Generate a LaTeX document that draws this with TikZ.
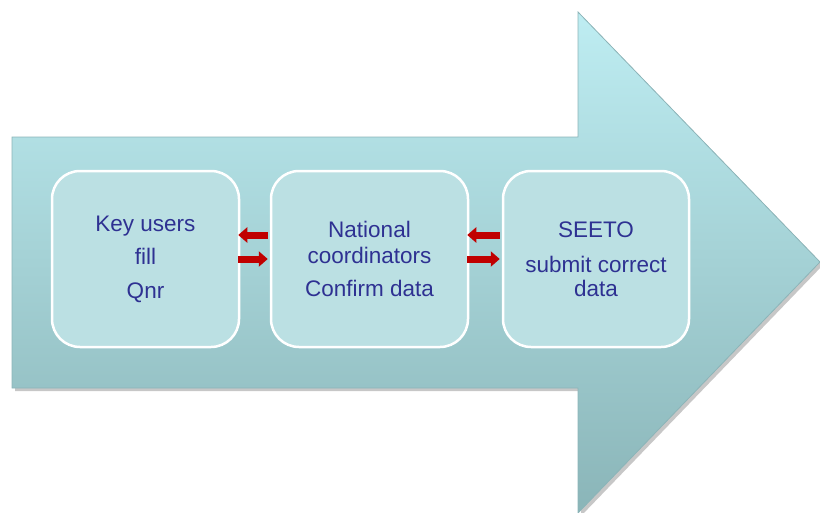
\documentclass[tikz,border=0pt]{standalone}
\usepackage{fontspec}
\setmainfont{Liberation Sans}
\usetikzlibrary{arrows.meta}
\definecolor{txt}{RGB}{46,49,146}
\definecolor{boxfill}{RGB}{187,224,227}
\definecolor{arrtop}{RGB}{190,237,242}
\definecolor{arrbot}{RGB}{138,181,184}
\definecolor{arredge}{RGB}{140,180,184}
\definecolor{arrred}{RGB}{192,0,0}
\begin{document}
\begin{tikzpicture}[x=1pt,y=-1pt,
  boxst/.style={draw=white, line width=2.5pt, rounded corners=28pt, fill=boxfill,
    minimum height=176pt, font=\fontsize{22.5}{26}\selectfont, text=txt,
    align=center, inner sep=0pt},
  redarr/.style={draw=arrred, line width=7pt, -{Triangle[width=15pt,length=9pt]}}]
\useasboundingbox (0,0) rectangle (820,512);
% shadow of the big arrow
\fill[black, opacity=0.22] (15,140) -- (581,140) -- (581,15) -- (823,265) -- (581,516) -- (581,391) -- (15,391) -- cycle;
% big arrow
\shade[top color=arrtop, bottom color=arrbot] (12,137) -- (578,137) -- (578,12) -- (820,262) -- (578,513) -- (578,388) -- (12,388) -- cycle;
\draw[arredge, line width=0.8pt] (12,137) -- (578,137) -- (578,12) -- (820,262) -- (578,513) -- (578,388) -- (12,388) -- cycle;
% boxes
\node[boxst, minimum width=187pt] (b1) at (145.5,259) {Key users\\[7.5pt]fill\\[7.5pt]Qnr};
\node[boxst, minimum width=197pt] (b2) at (369.5,259) {National\\coordinators\\[7pt]Confirm data};
\node[boxst, minimum width=186pt] (b3) at (596,259) {SEETO\\[9pt]submit correct\\[-2pt]data};
% red arrows
\draw[redarr] ([xshift=-2pt,yshift=24pt]b2.west) -- ([xshift=-2pt,yshift=24pt]b1.east);
\draw[redarr] ([xshift=-2pt]b1.east) -- ([xshift=-2pt]b2.west);
\draw[redarr] ([xshift=-2pt,yshift=24pt]b3.west) -- ([xshift=-2pt,yshift=24pt]b2.east);
\draw[redarr] ([xshift=-2pt]b2.east) -- ([xshift=-2pt]b3.west);
\end{tikzpicture}
\end{document}
